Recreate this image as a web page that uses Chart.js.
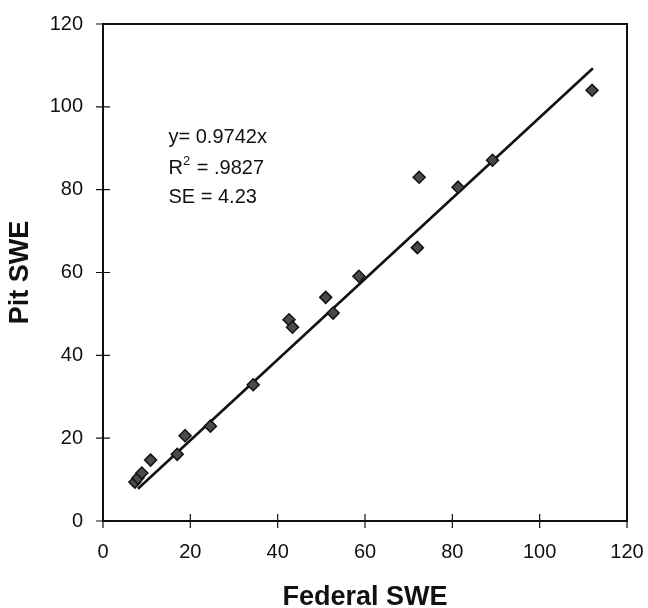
<!DOCTYPE html>
<html>
<head>
<meta charset="utf-8">
<script src="https://cdn.jsdelivr.net/npm/chart.js@4/dist/chart.umd.min.js"></script>
<style>
  html, body { margin: 0; padding: 0; background: #fff; }
  #wrap { width: 648px; height: 608px; position: relative; }
</style>
</head>
<body>
<div id="wrap"><canvas id="swe"></canvas></div>
<script>
// Federal vs pit snow water equivalent
const federalSwe = [7.3, 8.0, 8.9, 10.9, 17.0, 18.8, 24.6, 34.4, 42.6, 43.4, 51.0, 52.7, 58.6, 72.0, 72.4, 81.3, 89.2, 112.0];
const pitSwe     = [9.4, 10.4, 11.6, 14.7, 16.1, 20.6, 22.9, 32.9, 48.6, 46.8, 54.0, 50.2, 59.1, 66.0, 83.0, 80.6, 87.1, 104.0];

// regression line end points as drawn
const fitX = [8.0, 112.2];
const fitY = [7.8, 109.3];

const axisTicks = [0, 20, 40, 60, 80, 100, 120];
const statLines = ['y= 0.9742x', 'R2 = .9827', 'SE = 4.23'];
const statAnchor = { x: 15, y: [92.5, 85.2, 78.0] };

const FONT = "'Liberation Sans', Arial, Helvetica, sans-serif";
Chart.defaults.font.family = FONT;
Chart.defaults.color = '#111';

const points = federalSwe.map((x, i) => ({ x, y: pitSwe[i] }));
const fitLine = fitX.map((x, i) => ({ x, y: fitY[i] }));

// keep the label overhang from shrinking the plot box
function fixPadding(scale) {
    scale.paddingLeft = 0;
    scale.paddingRight = 0;
    scale.paddingTop = 0;
    scale.paddingBottom = 0;
}

// box round the plot, ticks that cross the axes, and the stats text
const framePlugin = {
    id: 'frame',
    beforeDatasetsDraw(chart) {
        const { ctx, chartArea: a, scales } = chart;
        ctx.save();
        ctx.strokeStyle = '#111';
        ctx.lineWidth = 2;
        ctx.strokeRect(a.left, a.top, a.right - a.left, a.bottom - a.top);
        ctx.lineWidth = 1.2;
        ctx.beginPath();
        axisTicks.forEach(v => {
            const px = scales.x.getPixelForValue(v);
            ctx.moveTo(px, a.bottom - 7);
            ctx.lineTo(px, a.bottom + 7);
            const py = scales.y.getPixelForValue(v);
            ctx.moveTo(a.left - 7, py);
            ctx.lineTo(a.left + 7, py);
        });
        ctx.stroke();
        ctx.restore();
    },
    afterDatasetsDraw(chart) {
        const { ctx, scales } = chart;
        const x0 = scales.x.getPixelForValue(statAnchor.x);
        ctx.save();
        ctx.fillStyle = '#111';
        ctx.textBaseline = 'middle';
        ctx.textAlign = 'left';
        ctx.font = '20px ' + FONT;
        statLines.forEach((line, i) => {
            const y = scales.y.getPixelForValue(statAnchor.y[i]);
            if (line.startsWith('R2')) {
                ctx.fillText('R', x0, y);
                let w = ctx.measureText('R').width;
                ctx.font = '13px ' + FONT;
                ctx.fillText('2', x0 + w, y - 7);
                w += ctx.measureText('2').width + 1;
                ctx.font = '20px ' + FONT;
                ctx.fillText(line.slice(2), x0 + w, y);
            } else {
                ctx.fillText(line, x0, y);
            }
        });
        ctx.restore();
    }
};

new Chart(document.getElementById('swe'), {
    type: 'scatter',
    data: {
        datasets: [
            {
                label: 'Fit',
                type: 'line',
                data: fitLine,
                borderColor: '#111',
                borderWidth: 2.6,
                pointRadius: 0,
                fill: false,
                order: 2
            },
            {
                label: 'Pit SWE',
                data: points,
                pointStyle: 'rectRot',
                pointRadius: 6,
                backgroundColor: '#4a4a4a',
                borderColor: '#111',
                borderWidth: 1.5,
                order: 1
            }
        ]
    },
    options: {
        responsive: true,
        maintainAspectRatio: false,
        animation: false,
        layout: { padding: { top: 24, right: 21, left: 0, bottom: 0 } },
        plugins: {
            legend: { display: false },
            tooltip: { enabled: false }
        },
        scales: {
            x: {
                type: 'linear',
                min: 0,
                max: 120,
                afterFit(scale) { scale.height = 87; fixPadding(scale); },
                ticks: { stepSize: 20, padding: 19, color: '#111', font: { size: 20 } },
                grid: { display: false, drawTicks: false },
                border: { display: false },
                title: {
                    display: true,
                    text: 'Federal SWE',
                    color: '#111',
                    font: { size: 27, weight: 'bold', lineHeight: 0.8 },
                    padding: { top: 0, bottom: 0 }
                }
            },
            y: {
                type: 'linear',
                min: 0,
                max: 120,
                afterFit(scale) { scale.width = 103; fixPadding(scale); },
                ticks: { stepSize: 20, padding: 20, color: '#111', font: { size: 20 } },
                grid: { display: false, drawTicks: false },
                border: { display: false },
                title: {
                    display: true,
                    text: 'Pit SWE',
                    color: '#111',
                    font: { size: 27, weight: 'bold', lineHeight: 1 },
                    padding: { top: 7, bottom: 0 }
                }
            }
        }
    },
    plugins: [framePlugin]
});
</script>
</body>
</html>
